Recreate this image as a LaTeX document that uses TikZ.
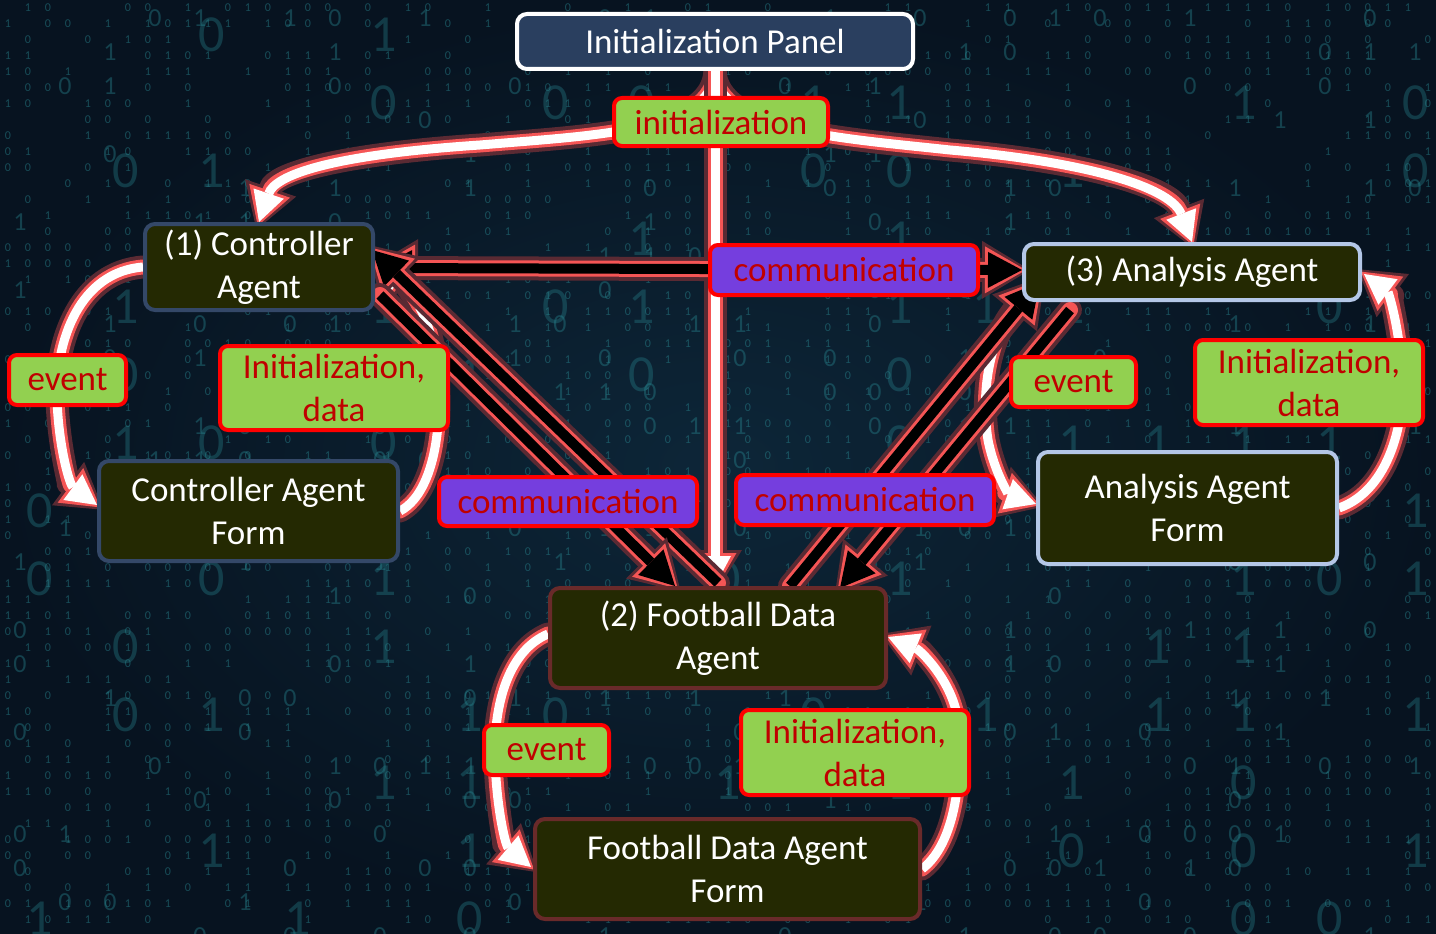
\documentclass[tikz,border=0pt]{standalone}
\usepackage{fontspec}
\setmainfont{Carlito}
\usetikzlibrary{arrows.meta,calc}
\pgfdeclarelayer{bg}
\pgfdeclarelayer{edges}
\pgfsetlayers{bg,edges,main}

\definecolor{bgc}{RGB}{7,19,32}
\definecolor{bgin}{RGB}{13,38,56}
\definecolor{digitc}{RGB}{40,135,145}
\definecolor{panelc}{RGB}{42,63,95}
\definecolor{agentc}{RGB}{36,41,2}
\definecolor{ctrlb}{RGB}{52,72,104}
\definecolor{anab}{RGB}{180,199,231}
\definecolor{fbb}{RGB}{105,42,42}
\definecolor{greenc}{RGB}{146,208,80}
\definecolor{purplec}{RGB}{117,62,222}
\definecolor{labred}{RGB}{255,0,0}
\definecolor{txtred}{RGB}{192,0,0}
\definecolor{glowc}{RGB}{245,85,85}

\tikzset{
 box/.style={rounded corners=10pt, line width=4pt, align=center, text=white,
   font=\fontsize{35}{43}\selectfont, inner sep=0pt},
 panelbox/.style={box, fill=panelc, draw=white},
 ctrlbox/.style={box, fill=agentc, draw=ctrlb},
 anabox/.style={box, fill=agentc, draw=anab},
 fbbox/.style={box, fill=agentc, draw=fbb},
 greenlab/.style={box, fill=greenc, draw=labred, text=txtred, rounded corners=8pt},
 purplelab/.style={box, fill=purplec, draw=labred, text=txtred, rounded corners=8pt},
 digit/.style={text=digitc, opacity=.5, font=\fontsize{12}{12}\selectfont, inner sep=0pt},
 middigit/.style={text=digitc, opacity=.4, font=\fontsize{26}{26}\selectfont, inner sep=0pt},
 bigdigit/.style={text=digitc, opacity=.35, font=\fontsize{52}{52}\selectfont, inner sep=0pt},
 wmain/.style={draw=white, line width=9pt, -{Triangle[length=30pt,width=32pt,line width=0pt]}},
 wg1/.style={draw=glowc, line width=15pt, line cap=round, -{Triangle[length=37pt,width=43pt,line width=0pt]}, shorten >=-4pt},
 wg2/.style={draw=glowc!35!bgc, line width=23pt, line cap=round, -{Triangle[length=44pt,width=54pt,line width=0pt]}, shorten >=-8pt},
 bmain/.style={draw=black, line width=10pt, -{Triangle[length=34pt,width=36pt,line width=0pt]}},
 bg1/.style={draw=glowc, line width=16pt, line cap=round, -{Triangle[length=41pt,width=47pt,line width=0pt]}, shorten >=-4pt},
 bg2/.style={draw=glowc!35!bgc, line width=24pt, line cap=round, -{Triangle[length=48pt,width=58pt,line width=0pt]}, shorten >=-8pt},
 bmaind/.style={draw=black, line width=10pt, {Triangle[length=34pt,width=36pt,line width=0pt]}-{Triangle[length=34pt,width=36pt,line width=0pt]}},
 bg1d/.style={draw=glowc, line width=16pt, {Triangle[length=41pt,width=47pt,line width=0pt]}-{Triangle[length=41pt,width=47pt,line width=0pt]}, shorten >=-4pt, shorten <=-4pt},
 bg2d/.style={draw=glowc!35!bgc, line width=24pt, {Triangle[length=48pt,width=58pt,line width=0pt]}-{Triangle[length=48pt,width=58pt,line width=0pt]}, shorten >=-8pt, shorten <=-8pt},
}
\newcommand{\GlowW}[1]{\draw[wg2] #1; \draw[wg1] #1; \draw[wmain] #1;}
\newcommand{\GlowB}[1]{\draw[bg2] #1; \draw[bg1] #1; \draw[bmain] #1;}
\newcommand{\GlowBD}[1]{\draw[bg2d] #1; \draw[bg1d] #1; \draw[bmaind] #1;}

\begin{document}
\begin{tikzpicture}[x=1pt,y=-1pt]
\useasboundingbox (0,0) rectangle (1436,934);

% nodes
\node[panelbox, minimum width=396pt, minimum height=55pt] (panel) at (715,41.5) {Initialization Panel};
\node[greenlab, minimum width=214pt, minimum height=48pt] (linit) at (721,122) {initialization};
\node[ctrlbox, minimum width=228pt, minimum height=86pt] (ctrl) at (259,267) {(1) Controller\\Agent};
\node[purplelab, minimum width=268pt, minimum height=50pt] (lcomm1) at (844,270) {communication};
\node[anabox, minimum width=336pt, minimum height=56pt] (ana) at (1192,272) {(3) Analysis Agent};
\node[greenlab, minimum width=117pt, minimum height=50pt] (lev1) at (67.5,380) {event};
\node[greenlab, minimum width=228pt, minimum height=84pt] (lid1) at (334,388) {Initialization,\\data};
\node[ctrlbox, minimum width=299pt, minimum height=100pt] (ctrlf) at (248.5,511) {Controller Agent\\Form};
\node[purplelab, minimum width=258pt, minimum height=49pt] (lcomm2) at (568,501.5) {communication};
\node[purplelab, minimum width=258pt, minimum height=50pt] (lcomm3) at (865,500) {communication};
\node[greenlab, minimum width=125pt, minimum height=50pt] (lev3) at (1073.5,382) {event};
\node[greenlab, minimum width=228pt, minimum height=85pt] (lid3) at (1309,382.5) {Initialization,\\data};
\node[anabox, minimum width=299pt, minimum height=112pt] (anaf) at (1187.5,508) {Analysis Agent\\Form};
\node[fbbox, minimum width=336pt, minimum height=100pt] (fb) at (718,638) {(2) Football Data\\Agent};
\node[greenlab, minimum width=125pt, minimum height=50pt] (lev2) at (546.5,750) {event};
\node[greenlab, minimum width=228pt, minimum height=85pt] (lid2) at (855,752.5) {Initialization,\\data};
\node[fbbox, minimum width=385pt, minimum height=100pt] (fbf) at (727.5,869) {Football Data Agent\\Form};

% background
\begin{pgfonlayer}{bg}
\shade[inner color=bgin, outer color=bgc] (0,0) rectangle (1436,934);
\pgfmathsetseed{7}
\foreach \i in {0,...,71}{
  \foreach \j in {0,...,57}{
    \pgfmathrandominteger{\rs}{0}{9}
    \ifnum\rs<5
      \pgfmathrandominteger{\dg}{0}{1}
      \node[digit] at (8+20*\i, 8+16*\j) {\dg};
    \fi
  }
}
\foreach \i in {0,...,31}{
  \foreach \j in {0,...,27}{
    \pgfmathrandominteger{\rs}{0}{9}
    \ifnum\rs<3
      \pgfmathrandominteger{\dg}{0}{1}
      \node[middigit] at (20+45*\i, 18+34*\j) {\dg};
    \fi
  }
}
\foreach \i in {0,...,16}{
  \foreach \j in {0,...,13}{
    \pgfmathrandominteger{\rs}{0}{9}
    \ifnum\rs<3
      \pgfmathrandominteger{\dg}{0}{1}
      \node[bigdigit] at (40+86*\i, 35+68*\j) {\dg};
    \fi
  }
}
\end{pgfonlayer}

% connectors
\begin{pgfonlayer}{edges}
% from initialization panel
\GlowW{(panel.south) .. controls ($(panel.south)+(-3,60)$) and (600,135) .. (480,145) .. controls (330,155) and (275,175) .. (ctrl.north)}
\GlowW{(panel.south) .. controls ($(panel.south)+(3,60)$) and (840,138) .. (950,150) .. controls (1100,163) and (1172,190) .. (ana.north)}
\GlowW{(panel.south) -- (panel.south |- fb.north)}
% controller loop
\GlowW{(ctrl.west) .. controls (80,272) and (55,340) .. (57,400) .. controls (59,450) and (70,485) .. ($(ctrlf.west)+(0,-6)$)}
\GlowW{(ctrlf.east) .. controls (440,490) and (446,400) .. (432,340) .. controls (422,300) and (400,280) .. ($(ctrl.east)+(2,-6)$)}
% analysis loop
\GlowW{($(ana.south west)+(4,-4)$) .. controls (990,325) and (980,390) .. (988,440) .. controls (995,475) and (1010,495) .. ($(anaf.west)+(0,-4)$)}
\GlowW{(anaf.east) .. controls (1390,490) and (1406,420) .. (1402,370) .. controls (1398,320) and (1388,292) .. ($(ana.east)+(2,2)$)}
% football loop
\GlowW{($(fb.west)+(0,-4)$) .. controls (510,650) and (495,700) .. (495,750) .. controls (495,800) and (505,845) .. ($(fbf.west)+(-2,-2)$)}
\GlowW{(fbf.east) .. controls (960,840) and (962,760) .. (958,720) .. controls (952,680) and (920,650) .. ($(fb.east)+(0,-1)$)}
% communication arrows
\GlowBD{($(ctrl.east)+(3,1)$) -- ($(ana.west)+(0,-2)$)}
\GlowB{($(fb.north)+(0,-3)$) -- ($(ctrl.east)+(-3,-17)$)}
\GlowB{($(ctrl.east)+(5,28)$) -- ($(fb.north)+(-43,0)$)}
\GlowB{($(fb.north)+(72,0)$) -- ($(ana.west)+(18,10)$)}
\GlowB{($(ana.west)+(48,38)$) -- ($(fb.north)+(122,2)$)}
\end{pgfonlayer}
\end{tikzpicture}
\end{document}
